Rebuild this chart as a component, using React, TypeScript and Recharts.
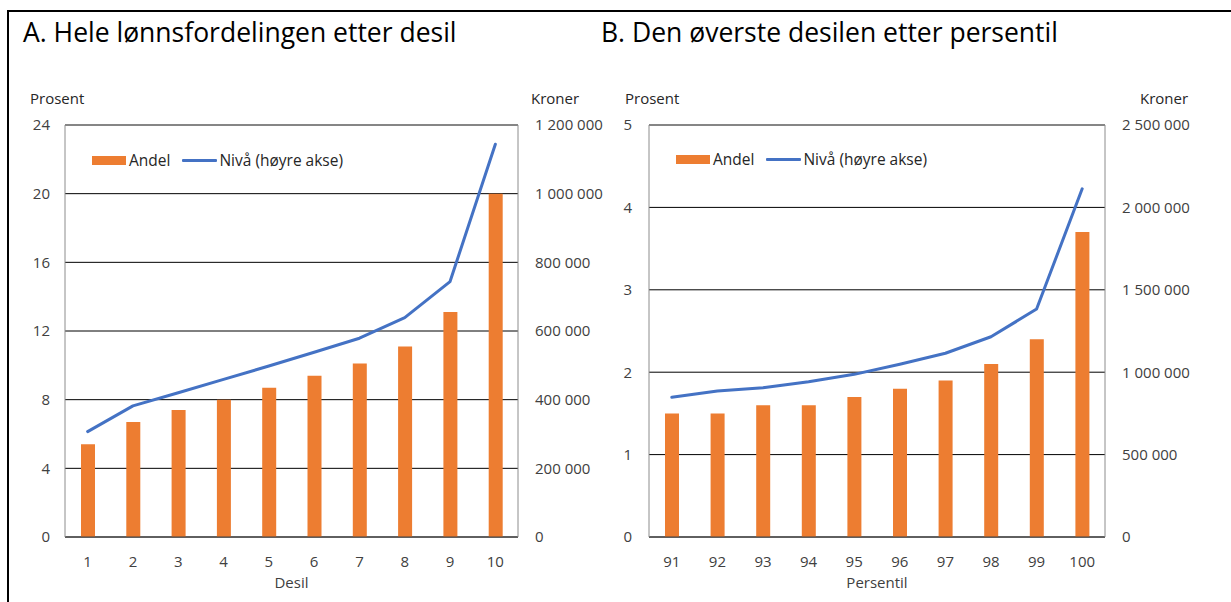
import React from 'react';
import {
  ComposedChart,
  Bar,
  Line,
  XAxis,
  YAxis,
  CartesianGrid,
  ReferenceLine,
  Label,
} from 'recharts';

// ---------- Data ----------
const desilCategories = ['1', '2', '3', '4', '5', '6', '7', '8', '9', '10'];
const desilAndel = [5.4, 6.7, 7.4, 8.0, 8.7, 9.4, 10.1, 11.1, 13.1, 20.0];
const desilNiva = [307000, 382000, 420000, 459000, 498000, 538000, 579000, 639000, 744000, 1144000];
const desilLeftTicks = [0, 4, 8, 12, 16, 20, 24];
const desilRightTicks = [0, 200000, 400000, 600000, 800000, 1000000, 1200000];

const persentilCategories = ['91', '92', '93', '94', '95', '96', '97', '98', '99', '100'];
const persentilAndel = [1.5, 1.5, 1.6, 1.6, 1.7, 1.8, 1.9, 2.1, 2.4, 3.7];
const persentilNiva = [848000, 886000, 906000, 942000, 987000, 1048000, 1115000, 1215000, 1383000, 2113000];
const persentilLeftTicks = [0, 1, 2, 3, 4, 5];
const persentilRightTicks = [0, 500000, 1000000, 1500000, 2000000, 2500000];

const titleA = 'A. Hele lønnsfordelingen etter desil';
const titleB = 'B. Den øverste desilen etter persentil';
const legendAndel = 'Andel';
const legendNiva = 'Nivå (høyre akse)';

// ---------- Styles ----------
const FONT = '"Open Sans", "DejaVu Sans", sans-serif';
const ORANGE = '#ED7D31';
const BLUE = '#4472C4';
const TICK_COLOR = '#404040';
const FRAME_GRAY = '#8c8c8c';

const fmtKr = (v: number) => String(v).replace(/\B(?=(\d{3})+(?!\d))/g, ' ');

const LegendBox = ({ left, top }: { left: number; top: number }) => (
  <div
    style={{
      position: 'absolute',
      left,
      top,
      height: 20,
      display: 'flex',
      alignItems: 'center',
      fontFamily: FONT,
      fontSize: 15.5,
      color: '#262626',
      whiteSpace: 'nowrap',
    }}
  >
    <div style={{ width: 34, height: 9, background: ORANGE }} />
    <span style={{ marginLeft: 3 }}>{legendAndel}</span>
    <div style={{ width: 35, height: 3, background: BLUE, marginLeft: 12, borderRadius: 1 }} />
    <span style={{ marginLeft: 2 }}>{legendNiva}</span>
  </div>
);

type PanelProps = {
  categories: string[];
  andel: number[];
  niva: number[];
  leftTicks: number[];
  rightTicks: number[];
  xLabel: string;
  width: number;
  leftAxisWidth: number;
  rightAxisWidth: number;
  leftMargin: number;
  rightMargin: number;
};

const Panel = (p: PanelProps) => {
  const data = p.categories.map((c, i) => ({ cat: c, andel: p.andel[i], niva: p.niva[i] }));
  const lMax = p.leftTicks[p.leftTicks.length - 1];
  const rMax = p.rightTicks[p.rightTicks.length - 1];
  return (
    <ComposedChart
      width={p.width}
      height={602}
      data={data}
      margin={{ top: 125, right: 0, left: 0, bottom: 0 }}
      barCategoryGap={0}
    >
      <CartesianGrid yAxisId="left" vertical={false} stroke="#000000" strokeWidth={1} />
      <XAxis
        dataKey="cat"
        height={65}
        tickLine={false}
        tickSize={0}
        tickMargin={19}
        axisLine={{ stroke: '#404040', strokeWidth: 1 }}
        tick={{ fill: TICK_COLOR, fontSize: 15, fontFamily: FONT }}
        interval={0}
      >
        <Label
          value={p.xLabel}
          position="insideBottom"
          offset={14}
          style={{ fill: TICK_COLOR, fontSize: 15, fontFamily: FONT }}
        />
      </XAxis>
      <YAxis
        yAxisId="left"
        orientation="left"
        width={p.leftAxisWidth}
        domain={[0, lMax]}
        ticks={p.leftTicks}
        tickLine={false}
        tickSize={0}
        tickMargin={p.leftMargin}
        axisLine={{ stroke: FRAME_GRAY, strokeWidth: 1 }}
        tick={{ fill: TICK_COLOR, fontSize: 15, fontFamily: FONT }}
        interval={0}
      />
      <YAxis
        yAxisId="right"
        orientation="right"
        width={p.rightAxisWidth}
        domain={[0, rMax]}
        ticks={p.rightTicks}
        tickFormatter={fmtKr}
        tickLine={false}
        tickSize={0}
        tickMargin={p.rightMargin}
        axisLine={{ stroke: FRAME_GRAY, strokeWidth: 1 }}
        tick={{ fill: TICK_COLOR, fontSize: 15, fontFamily: FONT, textAnchor: 'start' }}
        interval={0}
      />
      <ReferenceLine yAxisId="left" y={lMax} stroke={FRAME_GRAY} strokeWidth={1} />
      <Bar yAxisId="left" dataKey="andel" name={legendAndel} fill={ORANGE} barSize={14} isAnimationActive={false} />
      <Line
        yAxisId="right"
        dataKey="niva"
        name={legendNiva}
        stroke={BLUE}
        strokeWidth={3}
        dot={false}
        activeDot={false}
        strokeLinecap="round"
        strokeLinejoin="round"
        type="linear"
        isAnimationActive={false}
      />
    </ComposedChart>
  );
};

const textStyle: React.CSSProperties = {
  position: 'absolute',
  fontFamily: FONT,
  color: '#262626',
  whiteSpace: 'nowrap',
  lineHeight: 1,
};

export default function App() {
  return (
    <div style={{ position: 'absolute', left: 0, top: 0, width: 1231, height: 602, background: '#fff', overflow: 'hidden' }}>
      {/* outer frame */}
      <div style={{ position: 'absolute', left: 7, top: 10, width: 1224, height: 2, background: '#000' }} />
      <div style={{ position: 'absolute', left: 7, top: 10, width: 2, height: 592, background: '#000' }} />

      <div style={{ position: 'absolute', left: 0, top: 0 }}>
        <Panel
          categories={desilCategories}
          andel={desilAndel}
          niva={desilNiva}
          leftTicks={desilLeftTicks}
          rightTicks={desilRightTicks}
          xLabel="Desil"
          width={615}
          leftAxisWidth={65}
          rightAxisWidth={97}
          leftMargin={15}
          rightMargin={17}
        />
      </div>
      <div style={{ position: 'absolute', left: 615, top: 0 }}>
        <Panel
          categories={persentilCategories}
          andel={persentilAndel}
          niva={persentilNiva}
          leftTicks={persentilLeftTicks}
          rightTicks={persentilRightTicks}
          xLabel="Persentil"
          width={616}
          leftAxisWidth={34}
          rightAxisWidth={126}
          leftMargin={17}
          rightMargin={17}
        />
      </div>

      <LegendBox left={92} top={150} />
      <LegendBox left={676} top={149} />

      <div style={{ ...textStyle, left: 23, top: 19, fontSize: 26.5, color: '#000' }}>{titleA}</div>
      <div style={{ ...textStyle, left: 601, top: 19, fontSize: 26.5, color: '#000' }}>{titleB}</div>

      <div style={{ ...textStyle, left: 30, top: 91, fontSize: 15 }}>Prosent</div>
      <div style={{ ...textStyle, left: 531, top: 91, fontSize: 15 }}>Kroner</div>
      <div style={{ ...textStyle, left: 625, top: 91, fontSize: 15 }}>Prosent</div>
      <div style={{ ...textStyle, left: 1140, top: 91, fontSize: 15 }}>Kroner</div>
    </div>
  );
}
